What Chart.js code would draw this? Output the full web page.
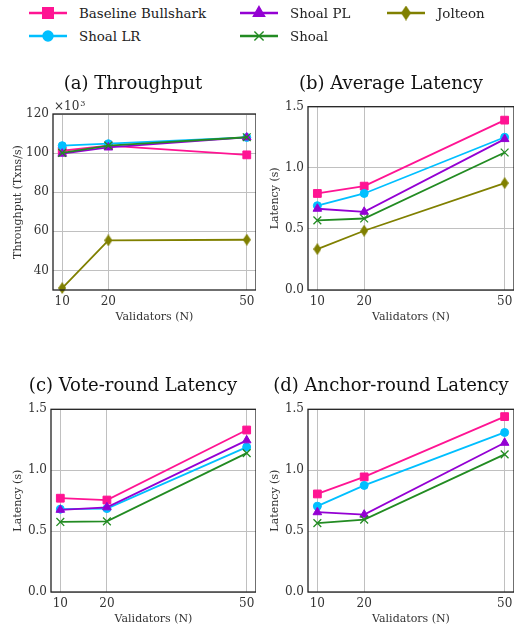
<!DOCTYPE html>
<html>
<head>
<meta charset="utf-8">
<script src="https://cdn.jsdelivr.net/npm/chart.js@4.4.0/dist/chart.umd.min.js"></script>
<style>
  body { margin: 0; background: #fff; width: 514px; height: 628px; overflow: hidden; position: relative; font-family: 'DejaVu Serif', serif; }
  canvas.panel { position: absolute; }
  .legend-item { position: absolute; display: flex; align-items: center; height: 20px; font-size: 13.4px; color: #222; white-space: nowrap; }
  .legend-item canvas { margin-right: 12px; }
</style>
</head>
<body>
<div id="legend"></div>
<canvas class="panel" id="chartA" width="246" height="266" style="left:10px;top:60px"></canvas>
<canvas class="panel" id="chartB" width="246" height="266" style="left:268px;top:60px"></canvas>
<canvas class="panel" id="chartC" width="246" height="266" style="left:10px;top:362px"></canvas>
<canvas class="panel" id="chartD" width="246" height="266" style="left:268px;top:362px"></canvas>
<script>
// x values (number of validators)
const validators = [10, 20, 50];
const seriesNames = ['Baseline Bullshark', 'Shoal LR', 'Shoal PL', 'Shoal', 'Jolteon'];
const seriesColors = ['#ff1493', '#00bfff', '#9400d3', '#228b22', '#808000'];

// throughput, in thousands of txns/s (one row per series)
const throughputK = [
    [101.2, 103.8, 99.1],
    [103.8, 104.8, 108.0],
    [99.7, 102.9, 108.0],
    [100.1, 103.8, 108.1],
    [31.0, 55.4, 55.7]
];
// latencies in seconds
const avgLatency = [
    [0.79, 0.85, 1.39],
    [0.69, 0.79, 1.25],
    [0.665, 0.64, 1.235],
    [0.57, 0.585, 1.125],
    [0.335, 0.485, 0.875]
];
const voteLatency = [
    [0.77, 0.755, 1.33],
    [0.68, 0.685, 1.19],
    [0.675, 0.695, 1.245],
    [0.575, 0.58, 1.14]
];
const anchorLatency = [
    [0.805, 0.945, 1.44],
    [0.705, 0.875, 1.31],
    [0.655, 0.635, 1.225],
    [0.565, 0.595, 1.13]
];
const throughputTicks = [40, 60, 80, 100, 120];
const latencyTicks = [0, 0.5, 1.0, 1.5];

const serif = 'DejaVu Serif';

// thin diamond marker for Jolteon
function diamond(w, h, color) {
    const c = document.createElement('canvas');
    c.width = w; c.height = h;
    const g = c.getContext('2d');
    g.fillStyle = color;
    g.beginPath();
    g.moveTo(w / 2, 0); g.lineTo(w, h / 2); g.lineTo(w / 2, h); g.lineTo(0, h / 2);
    g.closePath(); g.fill();
    return c;
}

const markerStyles = ['rect', 'circle', 'triangle', 'crossRot', diamond(8, 12, seriesColors[4])];
const markerRadius = [5.5, 4, 5, 5.5, 5];
const legendStyles = ['rect', 'circle', 'triangle', 'crossRot', diamond(10, 15, seriesColors[4])];
const legendRadius = [7.5, 5, 6.5, 6.5, 6];

// black box around the plot area, like matplotlib spines
const framePlugin = {
    id: 'frame',
    afterDraw(chart) {
        const { ctx, chartArea: a } = chart;
        ctx.save();
        ctx.strokeStyle = '#222';
        ctx.lineWidth = 1.3;
        ctx.strokeRect(a.left, a.top, a.right - a.left, a.bottom - a.top);
        ctx.restore();
    }
};

const multiplierPlugin = {
    id: 'multiplier',
    afterDraw(chart) {
        if (!chart.options.plugins.multiplier.show) return;
        const { ctx, chartArea: a } = chart;
        ctx.save();
        ctx.fillStyle = '#333';
        ctx.textBaseline = 'bottom';
        ctx.font = '12px ' + serif;
        ctx.fillText('\u00d710', a.left + 1, a.top - 1);
        const w = ctx.measureText('\u00d710').width;
        ctx.font = '8px ' + serif;
        ctx.fillText('3', a.left + 1 + w + 1, a.top - 6);
        ctx.restore();
    }
};

function makePanel(id, title, rows, yTitle, yMin, yMax, yTicks, fmt, lay) {
    const datasets = rows.map((vals, i) => ({
        label: seriesNames[i],
        data: vals.map((v, j) => ({ x: validators[j], y: v })),
        borderColor: seriesColors[i],
        backgroundColor: seriesColors[i],
        borderWidth: 1.8,
        tension: 0,
        pointStyle: markerStyles[i],
        pointRadius: markerRadius[i],
        pointBorderWidth: i === 3 ? 1.3 : 1,
        clip: false,
        order: -i
    }));

    return new Chart(document.getElementById(id), {
        type: 'line',
        data: { datasets },
        options: {
            responsive: false,
            animation: false,
            events: [],
            layout: { padding: 0, autoPadding: false },
            plugins: {
                legend: { display: false },
                tooltip: { enabled: false },
                multiplier: { show: !!lay.multiplier },
                title: {
                    display: true,
                    text: title,
                    color: '#111',
                    font: { family: serif, size: 18, weight: 'normal', lineHeight: 1.2 },
                    padding: { top: 14, bottom: lay.titleGap }
                }
            },
            scales: {
                x: {
                    type: 'linear',
                    min: 8,
                    max: 52,
                    afterBuildTicks: ax => { ax.ticks = validators.map(v => ({ value: v })); },
                    afterFit: s => { s.height = 36; s.paddingLeft = 0; s.paddingRight = 0; },
                    grid: { color: '#c0c0c0', drawTicks: false },
                    border: { display: false },
                    ticks: { padding: 5, color: '#333', font: { family: serif, size: 12 } },
                    title: {
                        display: true, text: 'Validators (N)', color: '#333',
                        font: { family: serif, size: 11 }, padding: { top: 0, bottom: 2 }
                    }
                },
                y: {
                    min: yMin,
                    max: yMax,
                    afterBuildTicks: ax => { ax.ticks = yTicks.map(v => ({ value: v })); },
                    afterFit: s => { s.width = lay.yAxisW; s.paddingTop = 0; s.paddingBottom = 0; },
                    grid: { color: '#c0c0c0', drawTicks: false },
                    border: { display: false },
                    ticks: { padding: 4, color: '#333', font: { family: serif, size: 12 }, callback: fmt },
                    title: {
                        display: true, text: yTitle, color: '#333',
                        font: { family: serif, size: 11 }, padding: { top: lay.yTitlePad, bottom: 0 }
                    }
                }
            }
        },
        plugins: [framePlugin, multiplierPlugin]
    });
}

const fmtInt = v => String(v);
const fmtOne = v => v.toFixed(1);

makePanel('chartA', '(a) Throughput', throughputK, 'Throughput (Txns/s)', 30, 120, throughputTicks, fmtInt,
    { titleGap: 18.4, yAxisW: 43, yTitlePad: 1.4, multiplier: true });
makePanel('chartB', '(b) Average Latency', avgLatency, 'Latency (s)', 0, 1.5, latencyTicks, fmtOne,
    { titleGap: 11.1, yAxisW: 40, yTitlePad: 0.4 });
makePanel('chartC', '(c) Vote-round Latency', voteLatency, 'Latency (s)', 0, 1.5, latencyTicks, fmtOne,
    { titleGap: 11.7, yAxisW: 41, yTitlePad: 1.7 });
makePanel('chartD', '(d) Anchor-round Latency', anchorLatency, 'Latency (s)', 0, 1.5, latencyTicks, fmtOne,
    { titleGap: 11.7, yAxisW: 40, yTitlePad: 0.4 });

// legend, 3 columns filled column by column
const legendSlots = [[29, 13], [29, 36], [240, 13], [240, 36], [387, 13]];
const legendBox = document.getElementById('legend');
seriesNames.forEach((name, i) => {
    const item = document.createElement('div');
    item.className = 'legend-item';
    item.style.left = legendSlots[i][0] + 'px';
    item.style.top = (legendSlots[i][1] - 10) + 'px';
    const cv = document.createElement('canvas');
    cv.width = 38; cv.height = 20;
    const ctx = cv.getContext('2d');
    ctx.strokeStyle = seriesColors[i];
    ctx.fillStyle = seriesColors[i];
    ctx.lineWidth = 2.4;
    ctx.beginPath(); ctx.moveTo(0, 10); ctx.lineTo(38, 10); ctx.stroke();
    ctx.lineWidth = 1.4;
    Chart.helpers.drawPoint(ctx, { pointStyle: legendStyles[i], radius: legendRadius[i], borderWidth: 1.4, rotation: 0 }, 19, 10);
    const label = document.createElement('span');
    label.textContent = name;
    item.appendChild(cv);
    item.appendChild(label);
    legendBox.appendChild(item);
});
</script>
</body>
</html>
